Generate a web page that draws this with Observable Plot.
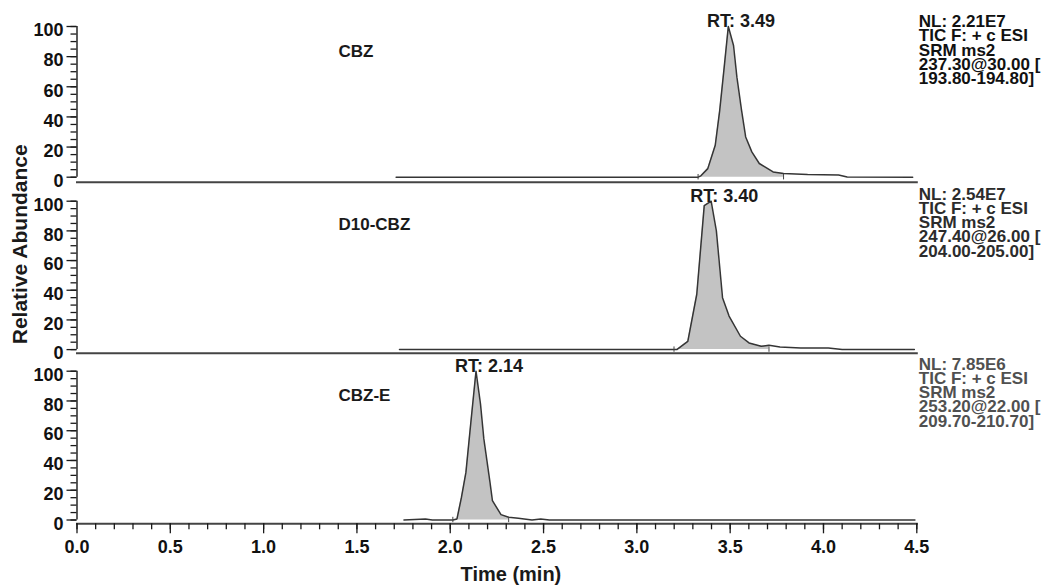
<!DOCTYPE html>
<html>
<head>
<meta charset="utf-8">
<script src="https://cdn.jsdelivr.net/npm/d3@7"></script>
<script src="https://cdn.jsdelivr.net/npm/@observablehq/plot@0.6"></script>
<style>
  body { margin: 0; background: #fff; }
  #chart { width: 1053px; height: 585px; position: relative; overflow: hidden; background: #fff; }
  #chart svg { display: block; }
</style>
</head>
<body>
<div id="chart"></div>
<script>
// ---------- data ----------
const compounds = ["CBZ", "D10-CBZ", "CBZ-E"];
const retentionTimes = [3.49, 3.40, 2.14];
const normLevels = ["2.21E7", "2.54E7", "7.85E6"];
const scanFilter = "TIC F: + c ESI";
const scanType = "SRM ms2";
const precursors = ["237.30", "247.40", "253.20"];
const collisionEnergies = ["30.00", "26.00", "22.00"];
const productRanges = ["193.80-194.80", "204.00-205.00", "209.70-210.70"];
const integrationStart = [3.328, 3.199, 2.014];
const integrationEnd = [3.786, 3.708, 2.313];

const cbzTime  = [1.71, 2.5, 3.0, 3.328, 3.343, 3.380, 3.420, 3.444, 3.468, 3.490, 3.518, 3.536, 3.561, 3.583, 3.616, 3.656, 3.730, 3.786, 3.915, 4.081, 4.127, 4.478];
const cbzAbund = [0,    0,   0,   0,     0.9,   5.7,   21.2,  44.4,  73,    100,   87.4,  66.4,  44.4,  26.7,  16.8,  9.1,   3.5,   2.4,   1.8,   1.5,   0.2,   0];

const d10Time  = [1.728, 2.5, 3.0, 3.199, 3.214, 3.273, 3.321, 3.361, 3.398, 3.426, 3.459, 3.494, 3.555, 3.601, 3.666, 3.708, 3.767, 3.878, 4.026, 4.100, 4.487];
const d10Abund = [0,     0,   0,   0,     0,     5.6,   37.3,  97,    100,   80,    35,    22.6,  9,     4.5,   2.2,   2.9,   1.8,   1.1,   1.1,   0,     0];

const cbzeTime  = [1.752, 1.867, 1.904, 2.014, 2.036, 2.060, 2.084, 2.110, 2.138, 2.162, 2.180, 2.213, 2.226, 2.272, 2.313, 2.365, 2.438, 2.485, 2.531, 3.5, 4.49];
const cbzeAbund = [0,     0.7,   0,     0,     0.7,   15.2,  32,    65,    100,   78,    54.5,  25.3,  13,    3.6,   1.8,   1.1,   0,     0.7,   0,     0,   0];

const yTicks = [0, 20, 40, 60, 80, 100];
const yMinorTicks = d3.range(0, 21).map(i => i * 5);
const xTicks = [0, 0.5, 1, 1.5, 2, 2.5, 3, 3.5, 4, 4.5];
const xMinorTicks = d3.range(0, 46).map(i => i / 10);
const xLabel = "Time (min)";
const yLabel = "Relative Abundance";

// ---------- layout / style ----------
const W = 1053;
const layout = [
  {time: cbzTime,  abund: cbzAbund,  height: 183, marginTop: 26,   insetBottom: 5,   marginBottom: 1.3,  info: "#111111", infoDy: -9.3,  nameDy: 25},
  {time: d10Time,  abund: d10Abund,  height: 171, marginTop: 17.7, insetBottom: 3.6, marginBottom: 1.3,  info: "#2c2c2c", infoDy: -11.4, nameDy: 23},
  {time: cbzeTime, abund: cbzeAbund, height: 231, marginTop: 16.7, insetBottom: 3.8, marginBottom: 61.7, info: "#505050", infoDy: -11.4, nameDy: 24}
];
const font = "'Liberation Sans', Arial, Helvetica, sans-serif";
const fmt1 = d3.format(".1f");

function panel(i) {
  const cfg = layout[i];
  const pts = cfg.time.map((t, j) => ({t, a: cfg.abund[j]}));
  const peak = pts.filter(d => d.t >= integrationStart[i] && d.t <= integrationEnd[i]);
  const info = [
    `NL: ${normLevels[i]}`, scanFilter, scanType,
    `${precursors[i]}@${collisionEnergies[i]} [`, `${productRanges[i]}]`
  ].join("\n");
  const bottom = i === 2;

  const marks = [
    Plot.areaY(peak, {x: "t", y: "a", fill: "#c3c3c3"}),
    Plot.line(pts, {x: "t", y: "a", stroke: "#353535", strokeWidth: 1.5}),
    Plot.ruleX([integrationStart[i], integrationEnd[i]], {y1: -1.8, y2: 1.8, stroke: "#444", strokeWidth: 1}),
    Plot.ruleX([0], {y1: 0, y2: 100, stroke: "#333", strokeWidth: 1.6}),
    Plot.axisY({ticks: yMinorTicks, tickSize: 6, text: null, strokeWidth: 1.3, label: null}),
    Plot.axisY({ticks: yTicks, tickSize: 10, text: null, strokeWidth: 1.3, label: null}),
    Plot.text(yTicks, {x: () => 0, y: d => d, text: d => String(d), dx: -13.5, dy: 4, textAnchor: "end", lineAnchor: "middle", fontSize: 18, fontWeight: "bold", fill: "#111"}),
    Plot.frame({anchor: "bottom", stroke: "#444", strokeWidth: 2}),
    Plot.text([compounds[i]], {frameAnchor: "top-left", dx: 261.5, dy: cfg.nameDy, lineAnchor: "middle", textAnchor: "start", fontSize: 17, fontWeight: "bold"}),
    Plot.text([retentionTimes[i]], {x: d => d, y: () => d3.max(cfg.abund), text: d => `RT: ${d.toFixed(2)}`, dx: 12.7, dy: -5, lineAnchor: "middle", fontSize: 18, fontWeight: "bold"}),
    Plot.text([info], {frameAnchor: "top-right", dx: 2, dy: cfg.infoDy, textAnchor: "start", lineAnchor: "top", lineHeight: 0.835, fontSize: 17, fontWeight: "bold", fill: cfg.info})
  ];
  if (i === 1) {
    marks.push(Plot.text([yLabel], {frameAnchor: "left", rotate: -90, dx: -56.8, dy: -32.9, textAnchor: "middle", lineAnchor: "middle", fontSize: 21, fontWeight: "bold"}));
  }
  if (bottom) {
    marks.push(
      Plot.axisX({ticks: xMinorTicks, tickSize: 6, text: null, strokeWidth: 1.3, label: null}),
      Plot.axisX({ticks: xTicks, tickSize: 10, text: null, strokeWidth: 1.3, label: null}),
      Plot.text(xTicks, {x: d => d, frameAnchor: "bottom", text: d => fmt1(d), dy: 23.4, lineAnchor: "middle", textAnchor: "middle", fontSize: 18, fontWeight: "bold", fill: "#111"}),
      Plot.text([xLabel], {frameAnchor: "bottom", dx: 14, dy: 51, lineAnchor: "middle", textAnchor: "middle", fontSize: 20, fontWeight: "bold"})
    );
  }

  return Plot.plot({
    width: W,
    height: cfg.height,
    marginLeft: 76.5,
    marginRight: 136.7,
    marginTop: cfg.marginTop,
    marginBottom: cfg.marginBottom,
    x: {domain: [0, 4.5], axis: null},
    y: {domain: [0, 100], insetBottom: cfg.insetBottom, axis: null},
    style: {fontFamily: font, color: "#1a1a1a", background: "#fff", overflow: "visible"},
    marks
  });
}

const chart = document.getElementById("chart");
for (let i = 0; i < 3; ++i) chart.appendChild(panel(i));
</script>
</body>
</html>
